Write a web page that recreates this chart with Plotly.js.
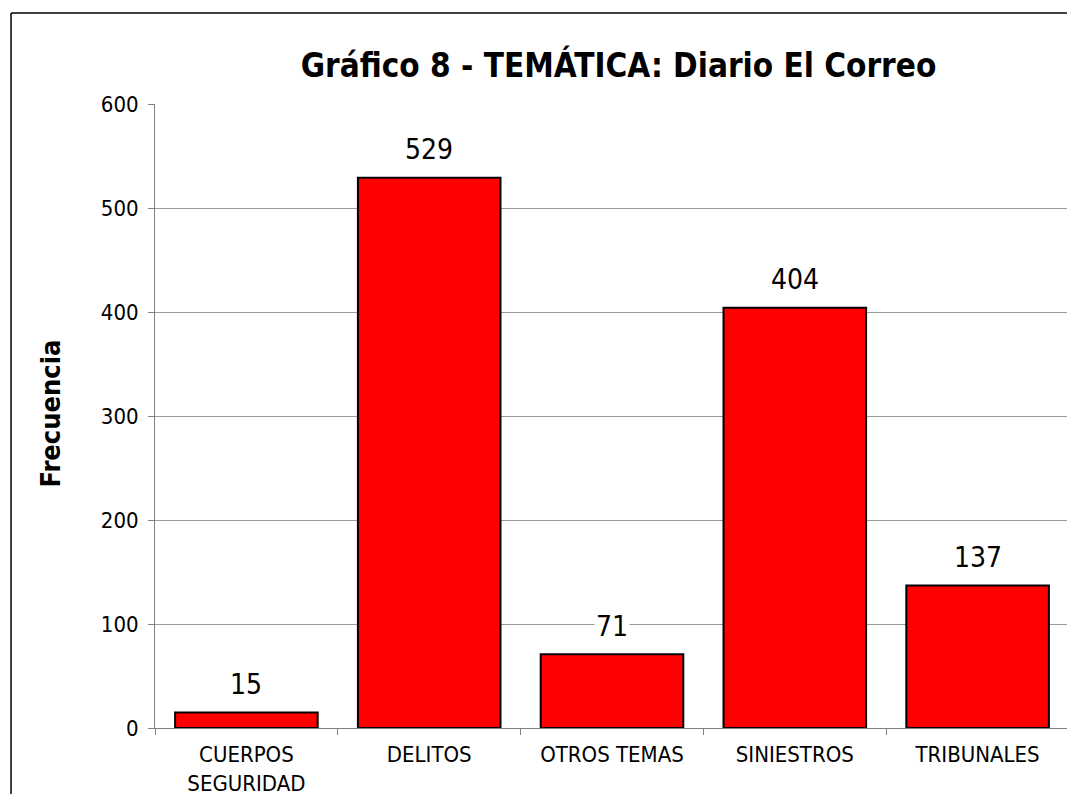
<!DOCTYPE html>
<html>
<head>
<meta charset="utf-8">
<script src="https://cdn.plot.ly/plotly-3.0.1.min.js"></script>
<style>
html,body{margin:0;padding:0;overflow:hidden;background:#fff;}
#chart{width:1080px;height:794px;}
</style>
</head>
<body>
<div id="chart"></div>
<script>
const categories = ["CUERPOS<br>SEGURIDAD", "DELITOS", "OTROS TEMAS", "SINIESTROS", "TRIBUNALES"];
const frecuencia = [15, 529, 71, 404, 137];
const yTicks = [0, 100, 200, 300, 400, 500, 600];

const FONT = "DejaVu Sans Condensed, DejaVu Sans, sans-serif";

const trace = {
  type: "bar",
  x: categories,
  y: frecuencia,
  marker: {color: "#ff0000", line: {color: "#000000", width: 2}},
  hoverinfo: "skip"
};

const annotations = categories.map((c, i) => ({
  x: c, y: frecuencia[i], xref: "x", yref: "y",
  text: String(frecuencia[i]),
  showarrow: false, yshift: 28, yanchor: "middle",
  bgcolor: "#ffffff", borderpad: 1,
  font: {family: FONT, size: 28, color: "#000"}
}));

annotations.push({
  xref: "paper", yref: "paper", x: -0.1138, y: 0.504,
  xanchor: "center", yanchor: "middle",
  text: "<b>Frecuencia</b>", textangle: -90, showarrow: false,
  font: {family: FONT, size: 27, color: "#000"}
});

const layout = {
  width: 1080, height: 794,
  margin: {l: 155, r: 11, t: 104, b: 66},
  paper_bgcolor: "#fff", plot_bgcolor: "#fff",
  bargap: 0.22,
  showlegend: false,
  title: {
    text: "<b>Gráfico 8 - TEMÁTICA: Diario El Correo</b>",
    x: 0.5727, xanchor: "center", y: 0.918, yanchor: "middle",
    font: {family: FONT, size: 33, color: "#000"}
  },
  xaxis: {
    type: "category",
    tickson: "boundaries",
    ticks: "outside", ticklen: 6, tickcolor: "#808080",
    ticklabelstandoff: 7,
    showline: true, linecolor: "#808080", linewidth: 1,
    showgrid: false,
    tickfont: {family: FONT, size: 22, color: "#000"},
    fixedrange: true
  },
  yaxis: {
    range: [0, 600],
    tickvals: yTicks,
    ticktext: yTicks.map(String),
    ticks: "outside", ticklen: 6, tickcolor: "#808080",
    ticklabelstandoff: 5,
    showline: true, linecolor: "#808080", linewidth: 1,
    showgrid: true, gridcolor: "#9a9a9a", gridwidth: 1,
    zeroline: false,
    tickfont: {family: FONT, size: 22, color: "#000"},
    fixedrange: true
  },
  annotations: annotations,
  shapes: [
    {type: "line", xref: "paper", yref: "paper", x0: -0.1575, x1: -0.1575, y0: -0.2, y1: 1.146,
     line: {color: "#000", width: 1.5}},
    {type: "line", xref: "paper", yref: "paper", x0: -0.1575, x1: 1.2, y0: 1.146, y1: 1.146,
     line: {color: "#000", width: 1.5}}
  ]
};

Plotly.newPlot("chart", [trace], layout, {displayModeBar: false, staticPlot: true});
</script>
</body>
</html>
